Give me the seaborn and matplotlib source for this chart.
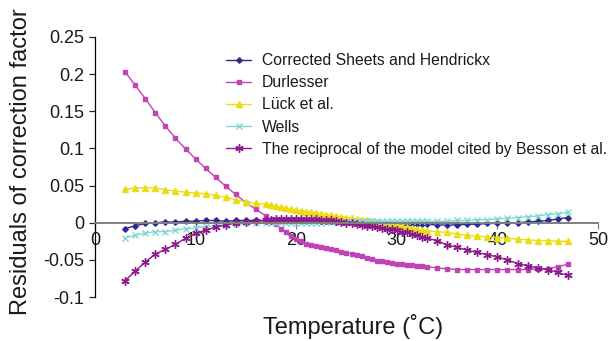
import numpy as np
import pandas as pd
import matplotlib
matplotlib.use("Agg")
import matplotlib.pyplot as plt
import seaborn as sns

# temperature grid (coarse at the ends, dense in the middle)
temps = [3, 4, 5, 6, 7, 8, 9, 10, 11, 12, 13, 14, 15, 16, 17,
         17.5, 18, 18.5, 19, 19.5, 20, 20.5, 21, 21.5, 22, 22.5, 23, 23.5, 24, 24.5, 25,
         25.5, 26, 26.5, 27, 27.5, 28, 28.5, 29, 29.5, 30, 30.5, 31, 31.5, 32, 32.5, 33,
         34, 35, 36, 37, 38, 39, 40, 41, 42, 43, 44, 45, 46, 47]

sheets = [-0.008, -0.004, -0.001, 0.000, 0.001, 0.001, 0.002, 0.002, 0.003, 0.003, 0.002, 0.003, 0.003, 0.003, 0.003,
          0.003, 0.003, 0.003, 0.003, 0.003, 0.003, 0.003, 0.002, 0.002, 0.002, 0.002, 0.002, 0.002, 0.001, 0.001, 0.001,
          0.001, 0.000, 0.000, 0.000, 0.000, -0.001, -0.001, -0.001, -0.001, -0.001, -0.002, -0.002, -0.002, -0.002, -0.002, -0.002,
          -0.003, -0.003, -0.003, -0.002, -0.002, -0.001, -0.001, 0.000, 0.000, 0.001, 0.002, 0.003, 0.005, 0.007]

durlesser = [0.203, 0.185, 0.167, 0.148, 0.130, 0.114, 0.099, 0.086, 0.073, 0.061, 0.049, 0.038, 0.027, 0.018, 0.009,
             0.004, -0.002, -0.008, -0.013, -0.018, -0.022, -0.025, -0.028, -0.030, -0.032, -0.033, -0.034, -0.036, -0.037, -0.039, -0.041,
             -0.042, -0.044, -0.045, -0.047, -0.049, -0.051, -0.052, -0.053, -0.054, -0.055, -0.056, -0.057, -0.057, -0.058, -0.058, -0.059,
             -0.061, -0.062, -0.063, -0.063, -0.063, -0.063, -0.063, -0.063, -0.063, -0.063, -0.062, -0.062, -0.059, -0.056]

luck = [0.045, 0.047, 0.047, 0.047, 0.044, 0.043, 0.041, 0.040, 0.039, 0.037, 0.034, 0.031, 0.028, 0.026, 0.025,
        0.024, 0.022, 0.021, 0.020, 0.018, 0.017, 0.016, 0.015, 0.014, 0.013, 0.012, 0.011, 0.010, 0.009, 0.008, 0.007,
        0.006, 0.005, 0.004, 0.003, 0.002, 0.001, 0.000, -0.001, -0.002, -0.003, -0.004, -0.006, -0.007, -0.009, -0.010, -0.011,
        -0.012, -0.013, -0.015, -0.017, -0.018, -0.019, -0.020, -0.021, -0.022, -0.023, -0.024, -0.024, -0.025, -0.025]

wells = [-0.020, -0.017, -0.014, -0.012, -0.012, -0.010, -0.008, -0.007, -0.005, -0.004, -0.003, -0.002, -0.001, -0.001, -0.001,
         -0.001, -0.001, -0.001, -0.001, -0.001, -0.001, 0.000, 0.000, 0.000, 0.000, 0.000, 0.001, 0.001, 0.001, 0.001, 0.001,
         0.002, 0.002, 0.002, 0.002, 0.002, 0.002, 0.002, 0.002, 0.002, 0.002, 0.002, 0.002, 0.002, 0.002, 0.002, 0.002,
         0.002, 0.002, 0.003, 0.003, 0.004, 0.004, 0.005, 0.006, 0.007, 0.008, 0.009, 0.011, 0.012, 0.014]

besson = [-0.078, -0.065, -0.053, -0.042, -0.036, -0.029, -0.021, -0.014, -0.010, -0.006, -0.003, 0.000, 0.001, 0.002, 0.003,
          0.004, 0.005, 0.005, 0.005, 0.005, 0.005, 0.005, 0.005, 0.005, 0.005, 0.004, 0.004, 0.003, 0.002, 0.001, 0.000,
          -0.001, -0.002, -0.003, -0.004, -0.005, -0.006, -0.007, -0.008, -0.009, -0.010, -0.012, -0.013, -0.015, -0.017, -0.019, -0.021,
          -0.024, -0.030, -0.033, -0.037, -0.040, -0.043, -0.046, -0.050, -0.055, -0.058, -0.061, -0.063, -0.067, -0.071]

labels = ["Corrected Sheets and Hendrickx", "Durlesser", "Lück et al.", "Wells",
          "The reciprocal of the model cited by Besson et al."]

sns.set_style("white")
plt.rcParams["font.family"] = ["Liberation Sans", "DejaVu Sans"]
plt.rcParams["axes.unicode_minus"] = False
plt.rcParams["text.color"] = "#1a1a1a"
plt.rcParams["axes.labelcolor"] = "#1a1a1a"

fig = plt.figure(figsize=(6.13, 3.41), dpi=100)
ax = fig.add_axes([0.155, 0.129, 0.8205, 0.7625])

# one style per model: colour, marker, marker size
styles = [
    ("#2E2A8E", "D", 2.8),
    ("#C044B6", "s", 3.2),
    ("#ECDD10", "^", 4.0),
    ("#7FD8D4", "x", 5.0),
    ("#8C1A8C", (6, 2, 0), 6.0),
]

for label, values, (color, marker, ms) in zip(labels, [sheets, durlesser, luck, wells, besson], styles):
    df = pd.DataFrame({"temp": temps, "resid": values})
    sns.lineplot(data=df, x="temp", y="resid", ax=ax, color=color, marker=marker,
                 markersize=ms, markeredgecolor=color, markeredgewidth=1.0,
                 linewidth=1.0, errorbar=None, label=label)

ax.set_xlim(0, 50)
ax.set_ylim(-0.1, 0.25)
ax.set_xticks([0, 10, 20, 30, 40, 50])
ax.set_yticks([-0.1, -0.05, 0, 0.05, 0.1, 0.15, 0.2, 0.25])
ax.set_yticklabels(["-0.1", "-0.05", "0", "0.05", "0.1", "0.15", "0.2", "0.25"])

ax.spines["top"].set_visible(False)
ax.spines["right"].set_visible(False)
ax.spines["bottom"].set_position(("data", 0))
ax.spines["bottom"].set_color("#808080")
ax.spines["bottom"].set_linewidth(1.4)
ax.spines["left"].set_color("black")
ax.spines["left"].set_linewidth(0.9)
ax.tick_params(axis="both", labelsize=13, direction="out", length=4, width=0.9,
               bottom=True, left=True, pad=4, labelcolor="#1a1a1a")
ax.tick_params(axis="x", colors="#808080", labelcolor="#1a1a1a", pad=3)

ax.set_xlabel("Temperature (˚C)", fontsize=17)
ax.xaxis.set_label_coords(0.513, -0.065)
ax.set_ylabel("Residuals of correction factor", fontsize=17)
ax.yaxis.set_label_coords(-0.125, 0.52)

ax.legend(loc="upper left", bbox_to_anchor=(226 / 613, 1 - 53 / 341),
          bbox_transform=fig.transFigure, frameon=False, fontsize=11.3,
          handlelength=1.6, handletextpad=0.69, labelspacing=0.46,
          borderaxespad=0, borderpad=0)

fig.savefig("out.png", dpi=100)
